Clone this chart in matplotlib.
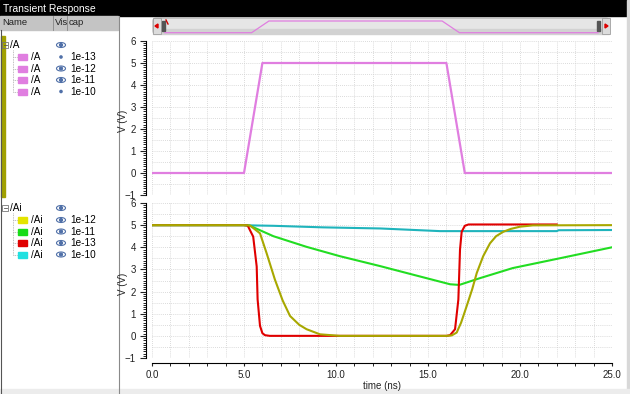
import numpy as np
import matplotlib
matplotlib.use("Agg")
import matplotlib.pyplot as plt
from matplotlib.patches import Rectangle, Ellipse, Circle, FancyBboxPatch, Polygon
from matplotlib.ticker import MultipleLocator

plt.rcParams['font.family'] = ['Liberation Sans', 'DejaVu Sans']
plt.rcParams['font.size'] = 7

# ---- data ----
# input /A, same for all four cap values
t_a = [0, 5, 6, 16, 17, 25]
v_a = [0, 0, 5, 5, 0, 0]

# output /Ai for each cap
t_13 = [0, 5.0, 5.2, 5.5, 5.69, 5.74, 5.87, 6.0, 6.14, 6.4, 16.0, 16.2, 16.47,
        16.65, 16.74, 16.83, 17.0, 17.2, 22.0]
v_13 = [5, 5, 4.98, 4.48, 3.13, 1.64, 0.45, 0.12, 0.03, 0.0, 0.0, 0.03, 0.3,
        1.64, 3.9, 4.7, 4.97, 5.03, 5.03]

t_12 = [0, 5.0, 5.33, 5.87, 6.23, 6.68, 7.1, 7.5, 8.0, 8.4, 9.13, 10.2, 16.0,
        16.29, 16.56, 16.8, 17.1, 17.4, 17.65, 18.0, 18.37, 18.7, 19.09, 19.5,
        20.0, 20.7, 25.0]
v_12 = [5, 5, 4.98, 4.63, 3.73, 2.54, 1.6, 0.9, 0.5, 0.3, 0.07, 0.0, 0.0,
        0.02, 0.15, 0.6, 1.34, 2.1, 2.84, 3.6, 4.18, 4.5, 4.7, 4.83,
        4.93, 4.99, 5.0]

t_11 = [0, 5.0, 5.3, 6.6, 8.4, 10.2, 12.4, 14.2, 16.2, 16.7, 17.8, 19.6, 22.2, 25.0]
v_11 = [5, 5, 4.98, 4.5, 4.02, 3.6, 3.15, 2.76, 2.33, 2.3, 2.6, 3.06, 3.51, 4.0]

t_10 = [0, 5.0, 5.3, 6.6, 9.3, 12.4, 15.65, 22.0, 22.1, 25.0]
v_10 = [5, 5, 4.99, 4.97, 4.9, 4.85, 4.73, 4.73, 4.77, 4.78]

caps_a = ['1e-13', '1e-12', '1e-11', '1e-10']
vis_a = ['dot', 'eye', 'eye', 'dot']
caps_ai = ['1e-12', '1e-11', '1e-13', '1e-10']
swatch_ai = ['#e4e400', '#18dc18', '#e00000', '#20e0e0']

pink = '#e07ee0'
col_12 = '#a8a800'
col_11 = '#22dd22'
col_13 = '#e00000'
col_10 = '#1fb4bc'

W, H = 630, 394
fig = plt.figure(figsize=(W / 100, H / 100), dpi=100)


def px(x0, y0, w, h):
    return [x0 / W, 1 - (y0 + h) / H, w / W, h / H]


# ---- window chrome in pixel coords ----
bg = fig.add_axes([0, 0, 1, 1], zorder=0)
bg.set_xlim(0, W)
bg.set_ylim(H, 0)
bg.axis('off')

bg.add_patch(Rectangle((0, 0), W, H, color='white'))
bg.add_patch(Rectangle((0, 0), 627, 16, color='black'))
bg.add_patch(Rectangle((627, 0), 3, H, color='#d8d8d8'))
bg.add_patch(Rectangle((0, 389), W, 5, color='#ececec'))
bg.text(3, 8.5, 'Transient Response', color='white', fontsize=7.5, va='center', ha='left')

# name panel header
bg.add_patch(Rectangle((0, 16), 118, 14, color='#c4c4c4'))
bg.plot([53, 53], [16, 30], color='#888888', lw=0.6)
bg.plot([67, 67], [16, 30], color='#888888', lw=0.6)
bg.text(2, 22.5, 'Name', fontsize=6.8, va='center', color='#222222')
bg.text(55, 22.5, 'Vis', fontsize=6.8, va='center', color='#222222')
bg.text(69, 22.5, 'cap', fontsize=6.8, va='center', color='#222222')
bg.plot([118.5, 118.5], [16, 394], color='#8a8a8a', lw=0.8)
bg.plot([0.5, 0.5], [30, 394], color='#555555', lw=0.8)
bg.add_patch(Rectangle((1, 36), 4, 161, color='#a0a000'))


def eye(x, y):
    bg.add_patch(Ellipse((x, y), 9, 5, fill=False, ec='#5070a8', lw=0.8))
    bg.add_patch(Circle((x, y), 1.4, color='#5070a8'))


def dot(x, y):
    bg.add_patch(Circle((x, y), 1.1, color='#5070a8'))


def group(y0, name, colors, caps, vis):
    bg.add_patch(Rectangle((2, y0 - 3), 6, 6, fill=False, ec='#777777', lw=0.6))
    bg.plot([3.5, 6.5], [y0, y0], color='#555555', lw=0.6)
    bg.text(10, y0, name, fontsize=7.2, va='center')
    eye(61, y0)
    rows = [y0 + 12, y0 + 23.5, y0 + 35, y0 + 46.5]
    bg.plot([13, 13], [y0 + 5, rows[-1]], color='#aaaaaa', lw=0.6, ls=(0, (1, 1)))
    for yy, c, cap, v in zip(rows, colors, caps, vis):
        bg.plot([13, 18], [yy, yy], color='#aaaaaa', lw=0.6, ls=(0, (1, 1)))
        bg.add_patch(Rectangle((18, yy - 3), 9, 6, color=c))
        bg.text(31, yy, name, fontsize=7.2, va='center')
        if v == 'eye':
            eye(61, yy)
        else:
            dot(61, yy)
        bg.text(70, yy, cap, fontsize=7.2, va='center')


group(45, '/A', [pink] * 4, caps_a, vis_a)
group(208, '/Ai', swatch_ai, caps_ai, ['eye'] * 4)

# scroll bar with mini waveform
bg.add_patch(FancyBboxPatch((153, 18), 456, 16, boxstyle='round,pad=0,rounding_size=3',
                            fc='#e6e6e6', ec='#a8a8a8', lw=0.8))
bg.add_patch(Rectangle((153, 29), 456, 5, color='#d2d2d2'))
bg.add_patch(Rectangle((153, 18), 8, 16, fc='#dcdcdc', ec='#a0a0a0', lw=0.6))
bg.add_patch(Rectangle((602, 18), 8, 16, fc='#dcdcdc', ec='#a0a0a0', lw=0.6))
bg.add_patch(Polygon([[155, 26], [158, 24], [158, 28]], color='#dd0000'))
bg.add_patch(Polygon([[608, 26], [605, 24], [605, 28]], color='#dd0000'))
bg.add_patch(Rectangle((162, 21), 3, 10, color='#555555'))
bg.add_patch(Rectangle((597, 21), 3, 10, color='#555555'))
bg.plot([166, 168], [20, 24], color='#cc0000', lw=1)

mini = fig.add_axes(px(165, 21, 433, 11.7), zorder=2)
mini.plot(t_a, v_a, color=pink, lw=0.9, clip_on=False)
mini.set_xlim(0, 25)
mini.set_ylim(0, 5)
mini.axis('off')


# ---- the two strips ----
def style(ax):
    ax.set_xlim(0, 25)
    ax.set_ylim(-1, 6)
    for s in ['top', 'right']:
        ax.spines[s].set_visible(False)
    ax.spines['left'].set_position(('outward', 4.5))
    ax.spines['left'].set_linewidth(0.8)
    ax.yaxis.set_major_locator(MultipleLocator(1))
    ax.yaxis.set_minor_locator(MultipleLocator(0.1))
    ax.tick_params(axis='y', which='major', length=4, width=0.8, pad=3, labelsize=7, colors='#222222')
    ax.tick_params(axis='y', which='minor', length=2.5, width=0.6)
    ax.xaxis.set_major_locator(MultipleLocator(5))
    ax.xaxis.set_minor_locator(MultipleLocator(1))
    for x in np.arange(0, 25.01, 1):
        ax.axvline(x, color='#cfcfcf', lw=0.6, ls=(0, (1, 1.5)), zorder=0)
    for y in np.arange(-1, 6.01, 0.5):
        ax.axhline(y, color='#cfcfcf', lw=0.6, ls=(0, (1, 1.5)), zorder=0)
    ax.set_ylabel('V (V)', fontsize=7, color='#222222')
    ax.yaxis.set_label_coords(-0.052, 0.48)


ax1 = fig.add_axes(px(152, 41, 460, 154), zorder=1)
ax1.patch.set_alpha(0)
style(ax1)
ax1.spines['bottom'].set_visible(False)
ax1.tick_params(axis='x', which='both', bottom=False, labelbottom=False)
ax1.plot(t_a, v_a, color=pink, lw=1.6)

ax2 = fig.add_axes(px(152, 203, 460, 155), zorder=1)
ax2.patch.set_alpha(0)
style(ax2)
ax2.spines['bottom'].set_position(('outward', 3.5))
ax2.spines['bottom'].set_linewidth(0.8)
ax2.tick_params(axis='x', which='major', length=2.5, width=0.8, pad=2.5, labelsize=7, colors='#222222')
ax2.tick_params(axis='x', which='minor', length=2.5, width=0.6)
ax2.xaxis.set_major_formatter(matplotlib.ticker.FormatStrFormatter('%.1f'))
ax2.plot(t_10, v_10, color=col_10, lw=1.5)
ax2.plot(t_11, v_11, color=col_11, lw=1.5)
ax2.plot(t_13, v_13, color=col_13, lw=1.5)
ax2.plot(t_12, v_12, color=col_12, lw=1.5)
ax2.set_xlabel('time (ns)', fontsize=7, labelpad=1, color='#222222')

fig.savefig('out.png', dpi=100)
